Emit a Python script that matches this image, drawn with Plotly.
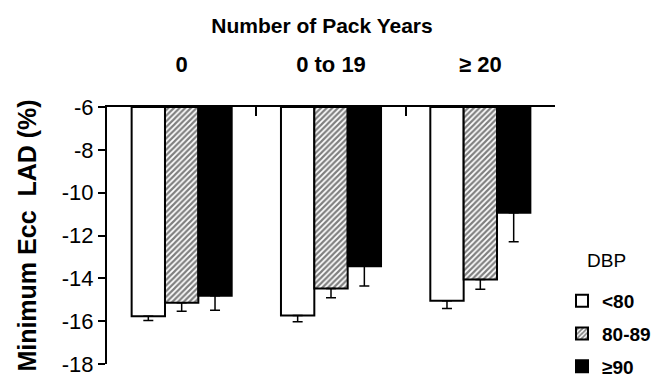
import plotly.graph_objects as go

categories = ["0", "0 to 19", "≥ 20"]
series_names = ["<80", "80-89", "≥90"]
dbp_lt80 = [-15.77, -15.73, -15.05]
dbp_lt80_err = [0.20, 0.30, 0.36]
dbp_80_89 = [-15.14, -14.47, -14.05]
dbp_80_89_err = [0.40, 0.44, 0.46]
dbp_ge90 = [-14.81, -13.43, -10.94]
dbp_ge90_err = [0.68, 0.93, 1.35]
base_value = -6
y_tick_vals = [-18, -16, -14, -12, -10, -8, -6]
y_tick_text = ["-18", "-16", "-14", "-12", "-10", "-8", "-6"]

FONT = "Liberation Sans, Arial, sans-serif"

fig = go.Figure()

def add(name, vals, errs, color, pattern=None, group="a"):
    marker = dict(color=color, line=dict(color="black", width=2))
    if pattern:
        marker["pattern"] = pattern
    fig.add_trace(go.Bar(
        x=categories,
        y=[v - base_value for v in vals],
        base=base_value,
        name=name,
        legendgroup=group,
        marker=marker,
        error_y=dict(type="data", symmetric=False, array=[0] * len(errs),
                     arrayminus=errs, color="black", thickness=1.5, width=5),
    ))

add(series_names[0], dbp_lt80, dbp_lt80_err, "white", group="g1")
add(series_names[1], dbp_80_89, dbp_80_89_err, "white",
    pattern=dict(shape="/", fgcolor="black", bgcolor="white", size=4, solidity=0.55),
    group="g2")
add(series_names[2], dbp_ge90, dbp_ge90_err, "black", group="g3")

fig.update_layout(
    width=653, height=379,
    margin=dict(l=107, r=98, t=107, b=15, autoexpand=False),
    paper_bgcolor="white", plot_bgcolor="white",
    barmode="group", bargap=0.33, bargroupgap=0,
    font=dict(family=FONT, size=20, color="black"),
    title=dict(text="<b>Number of Pack Years</b>", x=322 / 653, xanchor="center",
               xref="container",
               y=1 - 26 / 379, yanchor="middle", yref="container",
               font=dict(family=FONT, size=21, color="black")),
    showlegend=True,
    legend=dict(
        xref="container", yref="container",
        x=562 / 653, xanchor="left", y=1 - 282 / 379, yanchor="top",
        font=dict(family=FONT, size=19, color="black", weight="bold"),
        tracegroupgap=5, traceorder="grouped",
        bgcolor="rgba(0,0,0,0)",
    ),
    annotations=[dict(
        text="DBP", xref="paper", yref="paper",
        x=(585 - 107) / 448, y=(364 - 260) / 257, xanchor="left", yanchor="middle",
        showarrow=False, font=dict(family=FONT, size=19, color="black"),
    )],
)

fig.update_xaxes(
    type="category", side="top", tickson="boundaries",
    ticks="inside", ticklen=9, tickwidth=2, tickcolor="black",
    showline=True, linewidth=2, linecolor="black",
    showgrid=False, ticklabelstandoff=24, automargin=False,
    tickfont=dict(family=FONT, size=22, color="black"),
    tickprefix="<b>", ticksuffix="</b>",
)
fig.update_yaxes(
    range=[-18, -6], tickvals=y_tick_vals, ticktext=y_tick_text,
    ticks="outside", ticklen=7, tickwidth=2, tickcolor="black",
    showline=True, linewidth=2, linecolor="black",
    showgrid=False, zeroline=False, automargin=False,
    tickfont=dict(family=FONT, size=22, color="black"),
    tickprefix="<b>", ticksuffix="</b>",
    title=dict(text="<b>Minimum Ecc  LAD (%)</b>", standoff=18,
               font=dict(family=FONT, size=25, color="black")),
)

fig.write_html("out.html", config={"displayModeBar": False},
               post_script="document.body.style.margin='0';")
